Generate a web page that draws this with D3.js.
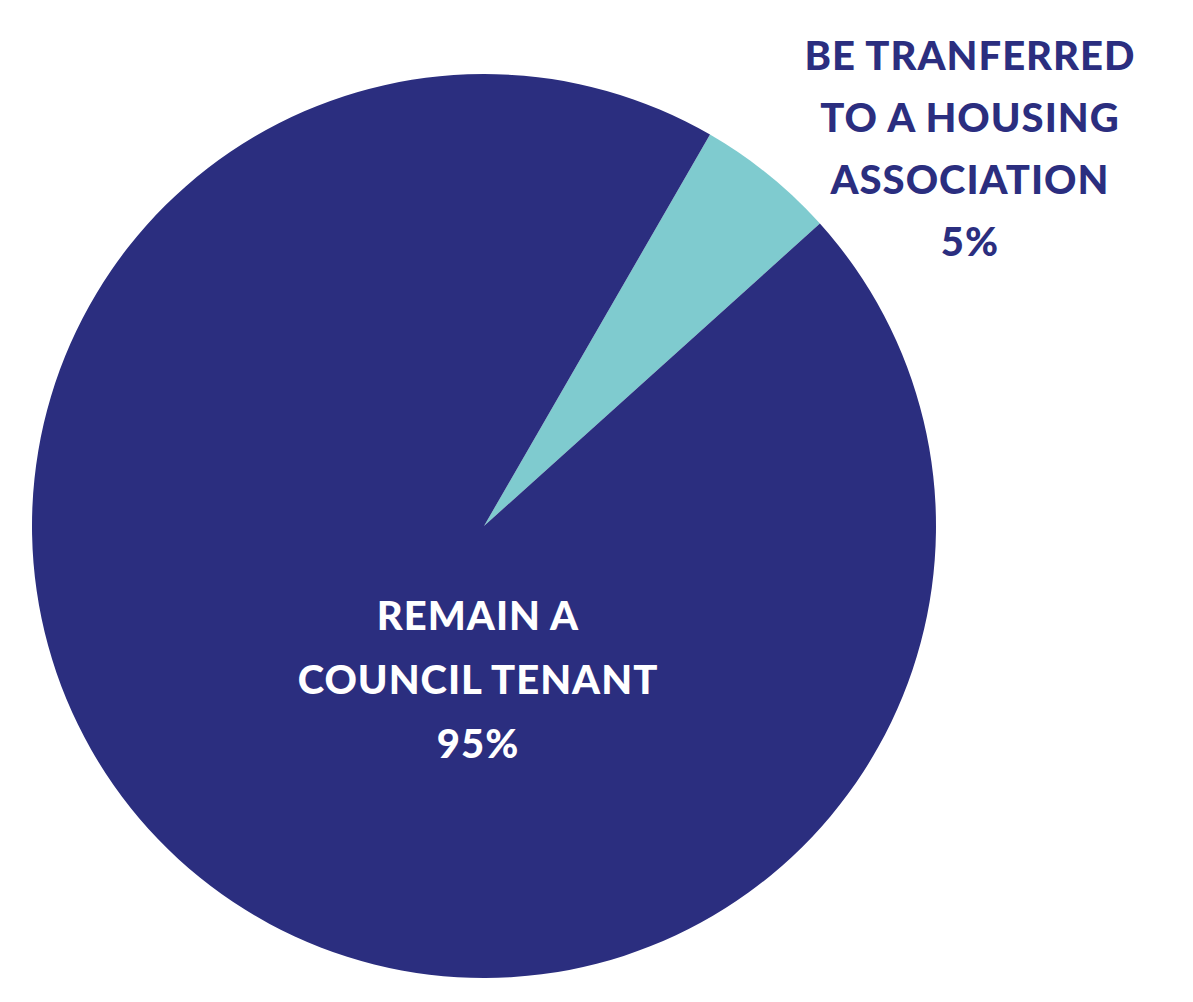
<!DOCTYPE html>
<html><head><meta charset="utf-8">
<script src="https://cdn.jsdelivr.net/npm/d3@7"></script>
<style>body{margin:0;background:#fff}</style></head>
<body><svg id="c" width="1193" height="1002"></svg>
<script>
const categories = ["BE TRANFERRED TO A HOUSING ASSOCIATION", "REMAIN A COUNCIL TENANT"];
const values = [5, 95];
const colors = ["#7fcbcf", "#2b2e7f"];
const svg = d3.select("#c");
const cx = 484, cy = 526, r = 452;
const a0 = 30*Math.PI/180;
const pie = d3.pie().sort(null).startAngle(a0).endAngle(a0 + 2*Math.PI);
const arc = d3.arc().innerRadius(0).outerRadius(r);
const g = svg.append("g").attr("transform", `translate(${cx},${cy})`);
g.selectAll("path").data(pie(values)).enter().append("path")
  .attr("d", arc).attr("fill", (d,i)=>colors[i]);
function label(lines, x, y0, dy, fill) {
  const t = svg.append("text").attr("text-anchor","middle").attr("fill",fill)
    .style("font-family","Lato, 'Open Sans', sans-serif").style("font-weight","900")
    .style("font-size","40px").style("letter-spacing","1px");
  lines.forEach((l,i)=>t.append("tspan").attr("x",x).attr("y",y0+i*dy).text(l));
}
label(["BE TRANFERRED","TO A HOUSING","ASSOCIATION", values[0]+"%"], 970, 70, 62, "#2b2e7f");
label(["REMAIN A","COUNCIL TENANT", values[1]+"%"], 478, 630, 64, "#ffffff");
</script></body></html>
